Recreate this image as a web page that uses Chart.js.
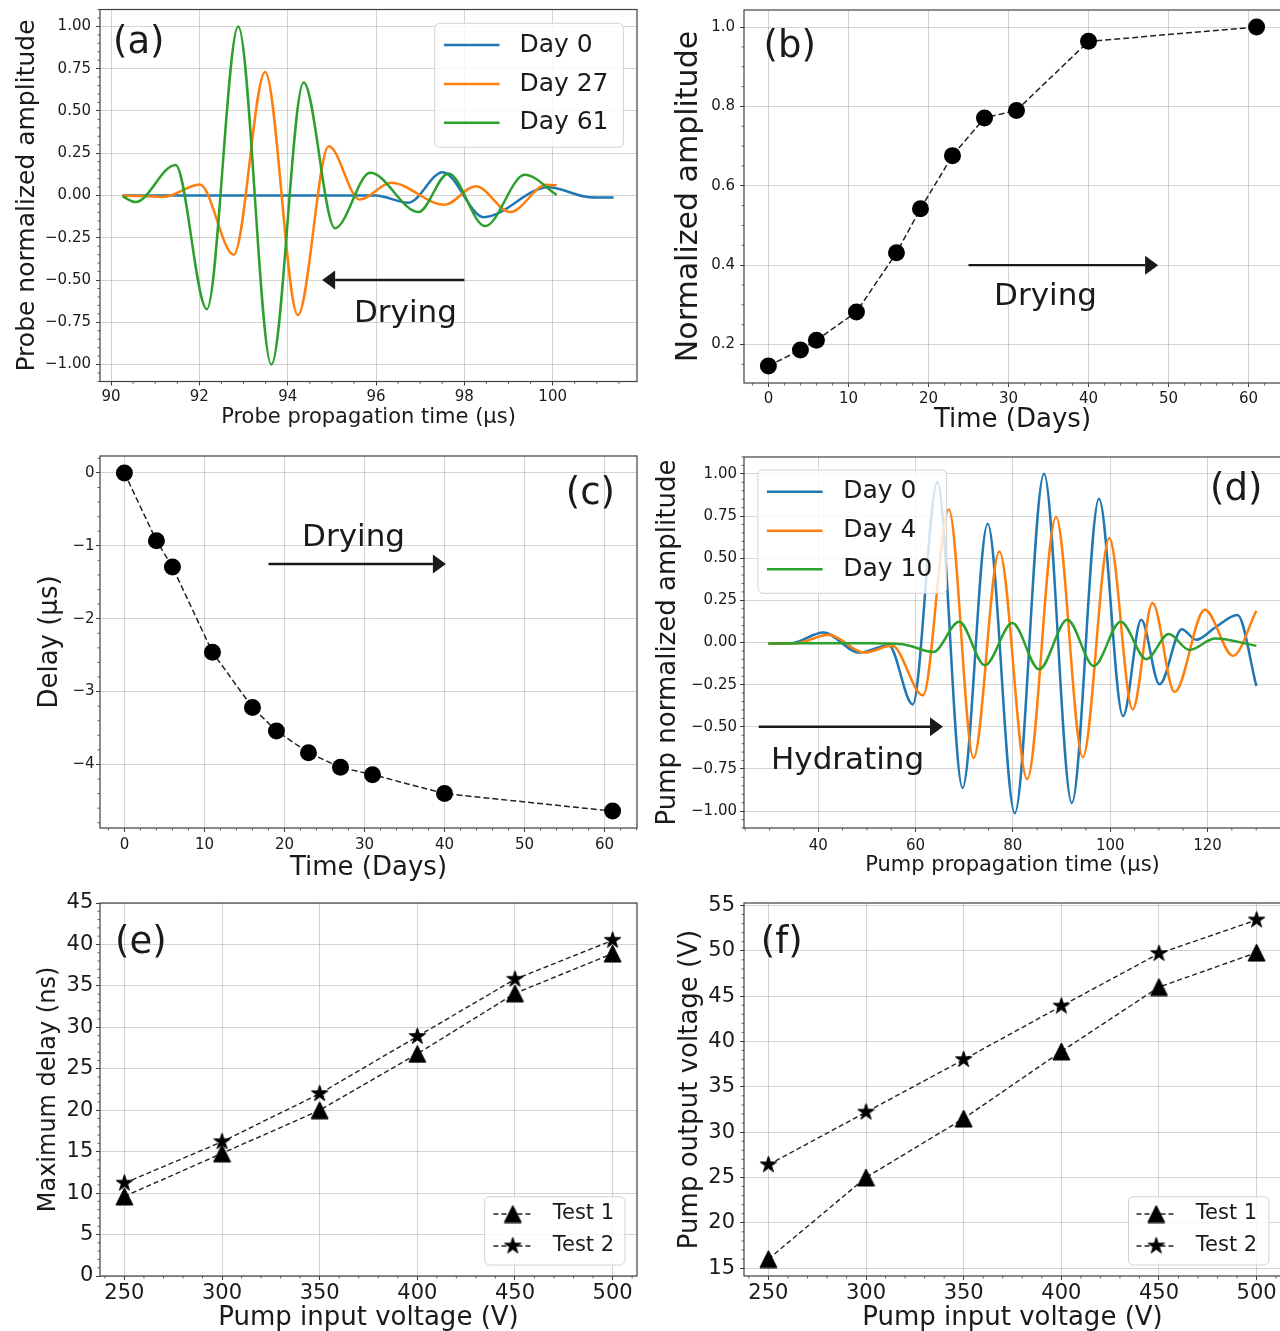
<!DOCTYPE html>
<html>
<head>
<meta charset="utf-8">
<title>Drying and hydration response</title>
<script src="https://cdn.jsdelivr.net/npm/chart.js@4.4.1/dist/chart.umd.min.js"></script>
<style>
  html, body { margin: 0; padding: 0; background: #fff; }
  #fig { position: relative; width: 1280px; height: 1331px; overflow: hidden; background: #fff; }
  #fig canvas { position: absolute; }
</style>
</head>
<body>
<div id="fig">
  <canvas id="pa"></canvas>
  <canvas id="pb"></canvas>
  <canvas id="pc"></canvas>
  <canvas id="pd"></canvas>
  <canvas id="pe"></canvas>
  <canvas id="pf"></canvas>
</div>
<script>
// ---------- (a) probe waveforms: turning points along each trace ----------
const probeDay0Time  = [90.26, 95.99, 96.73, 97.51, 98.44, 99.90, 100.84, 101.38];
const probeDay0Amp   = [0, 0, -0.043, 0.138, -0.128, 0.049, -0.010, -0.012];
const probeDay27Time = [90.26, 91.20, 92.01, 92.78, 93.49, 94.23, 94.93, 95.63, 96.34, 97.55, 98.26, 99.04, 99.86, 100.09];
const probeDay27Amp  = [0, -0.008, 0.065, -0.350, 0.731, -0.707, 0.291, -0.024, 0.075, -0.055, 0.055, -0.098, 0.063, 0.060];
const probeDay61Time = [90.26, 90.55, 91.46, 92.17, 92.88, 93.63, 94.36, 95.07, 95.87, 96.96, 97.64, 98.47, 99.37, 100.09];
const probeDay61Amp  = [-0.004, -0.039, 0.181, -0.672, 1.000, -1.000, 0.668, -0.193, 0.134, -0.098, 0.130, -0.181, 0.122, 0.004];

// ---------- (b), (c) drying series ----------
const dryingDays   = [0, 4, 6, 11, 16, 19, 23, 27, 31, 40, 61];
const probeNormAmp = [0.146, 0.186, 0.211, 0.282, 0.431, 0.542, 0.676, 0.771, 0.790, 0.964, 1.000];
const probeDelay   = [0, -0.93, -1.29, -2.46, -3.22, -3.54, -3.84, -4.04, -4.14, -4.40, -4.64];

// ---------- (d) pump waveforms: turning points along each trace ----------
const pumpDay0Time  = [29.76, 34.5, 41.06, 48.47, 54.48, 59.42, 64.50, 69.66, 74.82, 80.40, 86.40, 92.12, 97.70, 102.64, 106.38, 110.13, 114.72, 117.68, 121.57, 126.16, 130.04];
const pumpDay0Amp   = [-0.006, -0.004, 0.060, -0.060, -0.016, -0.367, 0.952, -0.863, 0.704, -1.012, 1.000, -0.952, 0.853, -0.437, 0.135, -0.248, 0.079, 0.016, 0.089, 0.163, -0.258];
const pumpDay4Time  = [29.76, 35.5, 42.12, 49.53, 55.18, 61.54, 66.84, 71.92, 77.22, 82.94, 88.87, 94.38, 99.82, 104.62, 108.71, 113.23, 119.45, 125.24, 130.04];
const pumpDay4Amp   = [-0.006, -0.004, 0.046, -0.060, -0.020, -0.313, 0.788, -0.685, 0.540, -0.810, 0.744, -0.680, 0.619, -0.397, 0.234, -0.294, 0.194, -0.079, 0.188];
const pumpDay10Time = [29.76, 50.0, 57.3, 63.66, 68.96, 74.25, 79.90, 85.41, 91.20, 96.64, 102.15, 107.44, 112.03, 116.27, 121.57, 130.04];
const pumpDay10Amp  = [-0.006, -0.004, -0.010, -0.056, 0.123, -0.135, 0.115, -0.159, 0.135, -0.139, 0.123, -0.099, 0.050, -0.044, 0.024, -0.020];

// ---------- (e), (f) pump voltage tests ----------
const pumpInputVolt   = [250, 300, 350, 400, 450, 500];
const maxDelayTest1   = [9.6, 14.8, 20.0, 26.8, 34.1, 38.9];
const maxDelayTest2   = [11.2, 16.2, 22.0, 28.9, 35.8, 40.5];
const outputVoltTest1 = [16.0, 25.0, 31.5, 38.9, 46.0, 49.8];
const outputVoltTest2 = [26.4, 32.2, 38.0, 43.9, 49.7, 53.4];

// ---------- tick values ----------
const probeTimeTicks  = [90, 92, 94, 96, 98, 100];
const ampTicks        = [-1, -0.75, -0.5, -0.25, 0, 0.25, 0.5, 0.75, 1];
const dayTicks        = [0, 10, 20, 30, 40, 50, 60];
const normAmpTicks    = [0.2, 0.4, 0.6, 0.8, 1.0];
const delayTicks      = [-4, -3, -2, -1, 0];
const pumpTimeTicks   = [40, 60, 80, 100, 120];
const inputVoltTicks  = [250, 300, 350, 400, 450, 500];
const maxDelayTicks   = [0, 5, 10, 15, 20, 25, 30, 35, 40, 45];
const outputVoltTicks = [15, 20, 25, 30, 35, 40, 45, 50, 55];

const FONT = '"DejaVu Sans", "Liberation Sans", sans-serif';
const BLUE = '#1f77b4', ORANGE = '#ff7f0e', GREEN = '#2ca02c';
const INK = '#1a1a1a', GRID = 'rgba(0,0,0,0.17)', TICK = '#3c3c3c';

Chart.defaults.font.family = FONT;
Chart.defaults.color = INK;

const minus = s => s.replace('-', '\u2212');
const fmt2 = v => minus((Math.abs(v) < 1e-9 ? 0 : v).toFixed(2));
const fmt1 = v => v.toFixed(1);
const fmt0 = v => minus(String(Math.round(v)));
const pts = (xs, ys) => xs.map((x, i) => ({ x, y: ys[i] }));

// marker sprites: matplotlib-like '^' and '*'
function triangleSprite(size) {
  const c = document.createElement('canvas');
  c.width = c.height = size + 2;
  const g = c.getContext('2d'), h = size / 2, m = c.width / 2;
  g.beginPath();
  g.moveTo(m, m - h); g.lineTo(m + h, m + h); g.lineTo(m - h, m + h); g.closePath();
  g.fillStyle = '#000'; g.fill();
  g.lineWidth = 1; g.strokeStyle = '#000'; g.stroke();
  return c;
}
function starSprite(R) {
  const c = document.createElement('canvas');
  c.width = c.height = Math.ceil(2 * R + 3);
  const g = c.getContext('2d'), m = c.width / 2, r = R * 0.381966;
  g.beginPath();
  for (let k = 0; k < 10; k++) {
    const ang = -Math.PI / 2 + k * Math.PI / 5, rad = k % 2 ? r : R;
    const px = m + rad * Math.cos(ang), py = m + rad * Math.sin(ang);
    k ? g.lineTo(px, py) : g.moveTo(px, py);
  }
  g.closePath();
  g.fillStyle = '#000'; g.fill();
  g.lineWidth = 1; g.strokeStyle = '#000'; g.stroke();
  return c;
}
const TRI = triangleSprite(17);
const STAR = starSprite(8.6);

// frame, minor ticks, arrows, notes, panel tag and in-axes legend
const decorPlugin = {
  id: 'figDecor',
  afterDatasetsDraw(chart, args, o) {
    const ctx = chart.ctx, a = chart.chartArea, ox = o.origin[0], oy = o.origin[1];
    const xs = chart.scales.x, ys = chart.scales.y;
    ctx.save();
    ctx.setLineDash([]);

    // minor ticks on bottom / left
    ctx.strokeStyle = TICK; ctx.lineWidth = 0.8;
    const minor = (scale, step, horiz) => {
      const majors = scale.ticks.map(t => t.value);
      const lo = Math.ceil(scale.min / step - 1e-9), hi = Math.floor(scale.max / step + 1e-9);
      ctx.beginPath();
      for (let k = lo; k <= hi; k++) {
        const v = k * step;
        if (majors.some(mv => Math.abs(mv - v) < step * 1e-3)) continue;
        const p = scale.getPixelForValue(v);
        if (horiz) { ctx.moveTo(p, a.bottom); ctx.lineTo(p, a.bottom + 2.5); }
        else { ctx.moveTo(a.left, p); ctx.lineTo(a.left - 2.5, p); }
      }
      ctx.stroke();
    };
    minor(xs, o.minor[0], true);
    minor(ys, o.minor[1], false);

    // axes frame
    ctx.strokeStyle = '#404040'; ctx.lineWidth = 1.2;
    ctx.strokeRect(a.left, a.top, a.right - a.left, a.bottom - a.top);

    // arrows in data coordinates
    (o.arrows || []).forEach(ar => {
      const x1 = xs.getPixelForValue(ar.from[0]), y1 = ys.getPixelForValue(ar.from[1]);
      const x2 = xs.getPixelForValue(ar.to[0]), y2 = ys.getPixelForValue(ar.to[1]);
      const ang = Math.atan2(y2 - y1, x2 - x1), hl = 13, hw = 9.5;
      const bx = x2 - hl * Math.cos(ang), by = y2 - hl * Math.sin(ang);
      ctx.strokeStyle = INK; ctx.lineWidth = 2.4;
      ctx.beginPath(); ctx.moveTo(x1, y1); ctx.lineTo(bx, by); ctx.stroke();
      ctx.beginPath();
      ctx.moveTo(x2, y2);
      ctx.lineTo(bx + hw * Math.sin(ang), by - hw * Math.cos(ang));
      ctx.lineTo(bx - hw * Math.sin(ang), by + hw * Math.cos(ang));
      ctx.closePath(); ctx.fillStyle = INK; ctx.fill();
    });

    // notes in data coordinates
    (o.notes || []).forEach(n => {
      ctx.font = n.size + 'px ' + FONT;
      ctx.fillStyle = INK; ctx.textAlign = 'left'; ctx.textBaseline = 'alphabetic';
      ctx.fillText(n.text, xs.getPixelForValue(n.at[0]), ys.getPixelForValue(n.at[1]));
    });

    // panel tag
    ctx.font = '37px ' + FONT;
    ctx.fillStyle = INK; ctx.textAlign = 'left'; ctx.textBaseline = 'middle';
    ctx.fillText(o.tag.text, o.tag.at[0] - ox, o.tag.at[1] - oy);

    // legend
    if (o.legend) {
      const lg = o.legend;
      const bx1 = lg.box[0] - ox, by1 = lg.box[1] - oy, bx2 = lg.box[2] - ox, by2 = lg.box[3] - oy;
      ctx.beginPath();
      if (ctx.roundRect) ctx.roundRect(bx1, by1, bx2 - bx1, by2 - by1, 5);
      else ctx.rect(bx1, by1, bx2 - bx1, by2 - by1);
      ctx.fillStyle = 'rgba(255,255,255,0.8)'; ctx.fill();
      ctx.strokeStyle = '#d2d2d2'; ctx.lineWidth = 1; ctx.stroke();
      const hx1 = lg.handle[0] - ox, hx2 = lg.handle[1] - ox;
      chart.data.datasets.forEach((ds, i) => {
        const y = lg.rows[i] - oy;
        ctx.strokeStyle = ds.borderColor; ctx.lineWidth = ds.borderWidth;
        ctx.setLineDash(ds.borderDash || []);
        ctx.beginPath(); ctx.moveTo(hx1, y); ctx.lineTo(hx2, y); ctx.stroke();
        ctx.setLineDash([]);
        if (ds.pointStyle instanceof HTMLCanvasElement) {
          const s = ds.pointStyle;
          ctx.drawImage(s, (hx1 + hx2) / 2 - s.width / 2, y - s.height / 2);
        }
        ctx.font = lg.font + 'px ' + FONT;
        ctx.fillStyle = INK; ctx.textAlign = 'left'; ctx.textBaseline = 'middle';
        ctx.fillText(ds.label, lg.textX - ox, y);
      });
    }
    ctx.restore();
  }
};

// one axes panel; plot = [left, top, right, bottom] of the axes box on the page
function panel(id, p) {
  const [pl, pt, pr, pb] = p.plot;
  const L = pl - 100, T = Math.floor(pt) - 30, R = Math.ceil(pr) + 20, B = Math.round(p.xTitle.y + 30);
  const cv = document.getElementById(id);
  cv.width = R - L; cv.height = B - T;
  cv.style.left = L + 'px'; cv.style.top = T + 'px';
  const xLH = p.xTitle.size * 1.2, yLH = p.yTitle.size * 1.2;
  const tickGrid = { color: GRID, lineWidth: 1, tickColor: TICK, tickLength: 4, tickWidth: 1 };
  return new Chart(cv, {
    type: 'line',
    data: { datasets: p.datasets },
    options: {
      responsive: false,
      animation: false,
      events: [],
      layout: { autoPadding: false, padding: { left: 0, top: pt - T, right: R - pr, bottom: 0 } },
      plugins: {
        legend: { display: false },
        tooltip: { enabled: false },
        figDecor: Object.assign({ origin: [L, T], minor: p.minor }, p.decor)
      },
      scales: {
        x: {
          type: 'linear', min: p.xRange[0], max: p.xRange[1],
          afterBuildTicks: s => { s.ticks = p.xTicks.map(v => ({ value: v })); },
          afterFit: s => { s.height = B - pb; },
          ticks: { font: { size: p.tickSize }, padding: p.xPad, maxRotation: 0, minRotation: 0, autoSkip: false, includeBounds: false, callback: p.xFmt },
          grid: tickGrid,
          border: { display: false },
          title: { display: true, text: p.xTitle.text, font: { size: p.xTitle.size }, padding: { top: 0, bottom: B - xLH / 2 - p.xTitle.y } }
        },
        y: {
          type: 'linear', min: p.yRange[0], max: p.yRange[1],
          afterBuildTicks: s => { s.ticks = p.yTicks.map(v => ({ value: v })); },
          afterFit: s => { s.width = pl - L; },
          ticks: { font: { size: p.tickSize }, padding: p.yPad, autoSkip: false, includeBounds: false, callback: p.yFmt },
          grid: tickGrid,
          border: { display: false },
          title: { display: true, text: p.yTitle.text, font: { size: p.yTitle.size }, padding: { top: p.yTitle.x - L - yLH / 2, bottom: 0 } }
        }
      }
    },
    plugins: [decorPlugin]
  });
}

const wave = (label, xs, ys, color, order) => ({
  label, data: pts(xs, ys), borderColor: color, backgroundColor: color, borderWidth: 2.5,
  pointRadius: 0, cubicInterpolationMode: 'monotone', fill: false, order
});
const dotted = (label, xs, ys) => ({
  label, data: pts(xs, ys), borderColor: '#222', borderWidth: 1.5, borderDash: [6, 3],
  pointRadius: 8.5, pointBackgroundColor: '#000', pointBorderColor: '#000', pointBorderWidth: 0,
  tension: 0, fill: false
});
const marked = (label, xs, ys, sprite, order) => ({
  label, data: pts(xs, ys), borderColor: '#222', borderWidth: 1.4, borderDash: [5, 3],
  pointStyle: sprite, pointRadius: 9, tension: 0, fill: false, order
});

// (a)
panel('pa', {
  plot: [100, 9.5, 637, 381.5],
  xRange: [89.75, 101.91], yRange: [-1.1, 1.1],
  xTicks: probeTimeTicks, yTicks: ampTicks, xFmt: fmt0, yFmt: fmt2,
  tickSize: 15, xPad: 3, yPad: 5, minor: [0.5, 0.05],
  xTitle: { text: 'Probe propagation time (\u03bcs)', size: 21, y: 418 },
  yTitle: { text: 'Probe normalized amplitude', size: 25, x: 27 },
  datasets: [
    wave('Day 0', probeDay0Time, probeDay0Amp, BLUE, 3),
    wave('Day 27', probeDay27Time, probeDay27Amp, ORANGE, 2),
    wave('Day 61', probeDay61Time, probeDay61Amp, GREEN, 1)
  ],
  decor: {
    tag: { text: '(a)', at: [113, 43] },
    legend: { box: [434.7, 23.3, 623.4, 147.3], handle: [444, 499.5], textX: 519.4, rows: [45, 84, 122.7], font: 25 },
    arrows: [{ from: [98, -0.5], to: [94.78, -0.5] }],
    notes: [{ text: 'Drying', at: [95.5, -0.75], size: 31 }]
  }
});

// (b)
panel('pb', {
  plot: [744, 10, 1281, 383],
  xRange: [-3.05, 64.05], yRange: [0.103, 1.043],
  xTicks: dayTicks, yTicks: normAmpTicks, xFmt: fmt0, yFmt: fmt1,
  tickSize: 15, xPad: 3.5, yPad: 5, minor: [2, 0.05],
  xTitle: { text: 'Time (Days)', size: 26, y: 420 },
  yTitle: { text: 'Normalized amplitude', size: 30, x: 689 },
  datasets: [dotted('Normalized amplitude', dryingDays, probeNormAmp)],
  decor: {
    tag: { text: '(b)', at: [763.6, 47.5] },
    arrows: [{ from: [25, 0.4], to: [48.7, 0.4] }],
    notes: [{ text: 'Drying', at: [28.2, 0.3], size: 31 }]
  }
});

// (c)
panel('pc', {
  plot: [100, 456, 637, 828],
  xRange: [-3.05, 64.05], yRange: [-4.872, 0.232],
  xTicks: dayTicks, yTicks: delayTicks, xFmt: fmt0, yFmt: fmt0,
  tickSize: 15, xPad: 4, yPad: 1.5, minor: [2, 0.2],
  xTitle: { text: 'Time (Days)', size: 26, y: 868 },
  yTitle: { text: 'Delay (\u03bcs)', size: 26, x: 50.7 },
  datasets: [dotted('Delay', dryingDays, probeDelay)],
  decor: {
    tag: { text: '(c)', at: [565.8, 494] },
    arrows: [{ from: [18, -1.25], to: [40.17, -1.25] }],
    notes: [{ text: 'Drying', at: [22.2, -1.0], size: 31 }]
  }
});

// (d)
panel('pd', {
  plot: [744, 457, 1281, 828],
  xRange: [24.75, 135.1], yRange: [-1.1, 1.1],
  xTicks: pumpTimeTicks, yTicks: ampTicks, xFmt: fmt0, yFmt: fmt2,
  tickSize: 15, xPad: 5, yPad: 3, minor: [5, 0.05],
  xTitle: { text: 'Pump propagation time (\u03bcs)', size: 21, y: 866 },
  yTitle: { text: 'Pump normalized amplitude', size: 26, x: 668 },
  datasets: [
    wave('Day 0', pumpDay0Time, pumpDay0Amp, BLUE, 3),
    wave('Day 4', pumpDay4Time, pumpDay4Amp, ORANGE, 2),
    wave('Day 10', pumpDay10Time, pumpDay10Amp, GREEN, 1)
  ],
  decor: {
    tag: { text: '(d)', at: [1210, 490] },
    legend: { box: [757.9, 470, 946.6, 593.3], handle: [766.9, 822.6], textX: 843.3, rows: [491.7, 530.7, 569.3], font: 25 },
    arrows: [{ from: [27.78, -0.5], to: [65.64, -0.5] }],
    notes: [{ text: 'Hydrating', at: [30.3, -0.75], size: 31 }]
  }
});

// (e)
panel('pe', {
  plot: [100, 903, 637, 1276],
  xRange: [237.5, 512.5], yRange: [0, 45],
  xTicks: inputVoltTicks, yTicks: maxDelayTicks, xFmt: fmt0, yFmt: fmt0,
  tickSize: 21, xPad: 1, yPad: 2.7, minor: [10, 1],
  xTitle: { text: 'Pump input voltage (V)', size: 26, y: 1318 },
  yTitle: { text: 'Maximum delay (ns)', size: 24, x: 49 },
  datasets: [
    marked('Test 1', pumpInputVolt, maxDelayTest1, TRI, 2),
    marked('Test 2', pumpInputVolt, maxDelayTest2, STAR, 1)
  ],
  decor: {
    tag: { text: '(e)', at: [115, 943] },
    legend: { box: [484.7, 1196.7, 625, 1265], handle: [493.4, 532.2], textX: 552.7, rows: [1214, 1246], font: 21 }
  }
});

// (f)
panel('pf', {
  plot: [744, 903, 1281, 1276],
  xRange: [237.5, 512.5], yRange: [14.13, 55.27],
  xTicks: inputVoltTicks, yTicks: outputVoltTicks, xFmt: fmt0, yFmt: fmt0,
  tickSize: 21, xPad: 1, yPad: 5, minor: [10, 1],
  xTitle: { text: 'Pump input voltage (V)', size: 26, y: 1318 },
  yTitle: { text: 'Pump output voltage (V)', size: 26, x: 690 },
  datasets: [
    marked('Test 1', pumpInputVolt, outputVoltTest1, TRI, 2),
    marked('Test 2', pumpInputVolt, outputVoltTest2, STAR, 1)
  ],
  decor: {
    tag: { text: '(f)', at: [760.8, 943] },
    legend: { box: [1128.5, 1196.7, 1268.9, 1265], handle: [1136.5, 1176], textX: 1195.8, rows: [1214, 1246], font: 21 }
  }
});
</script>
</body>
</html>
